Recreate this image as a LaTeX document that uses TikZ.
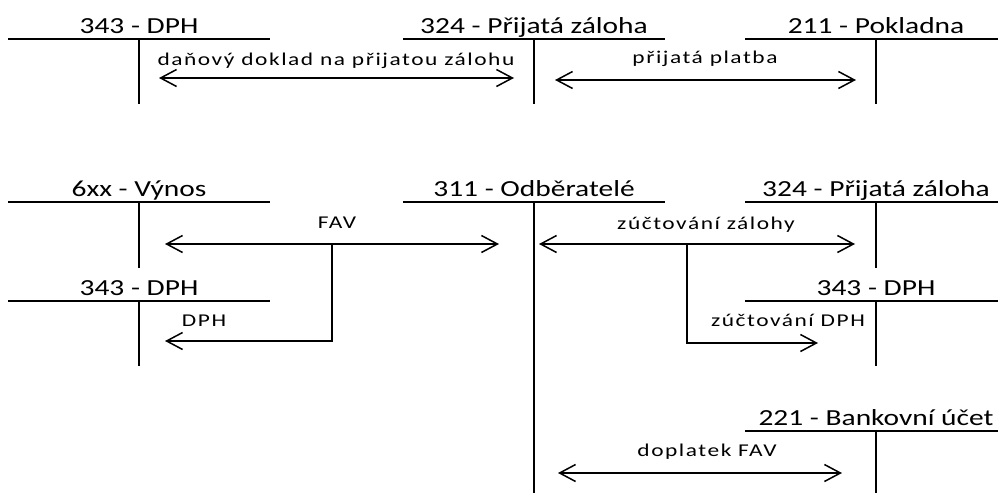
\documentclass[tikz,border=0pt]{standalone}
\usepackage{fontspec}
\usetikzlibrary{arrows.meta}
\newfontfamily\titlefont[FakeStretch=1.28]{Carlito}
\newfontfamily\labelfont[FakeStretch=1.3,LetterSpace=8.6]{Carlito}
\newcommand\taccount[5]{% name, cx, y, bottom, title
  \coordinate (#1) at (#2,#3);
  \draw[tline] (#2-131,#3) -- ({min(#2+131,998)},#3);
  \draw[tline] (#2,#3) -- (#2,#4);
  \node[acctitle] (#1t) at (#2,#3-6) {#5};
}
\begin{document}
\begin{tikzpicture}[x=1pt,y=-1pt,
  tline/.style={line width=2.9pt},
  barb/.tip={Straight Barb[length=16pt,width=17pt]},
  flow/.style={line width=1.5pt},
  acctitle/.style={anchor=base,inner sep=0pt,font=\titlefont\fontsize{23}{27}\selectfont},
  flowlabel/.style={anchor=base,inner sep=0pt,font=\labelfont\fontsize{18}{22}\selectfont}]
\useasboundingbox (0,0) rectangle (998,493);
\fill[white] (0,0) rectangle (998,493);

% top row
\taccount{dphA}{139}{39}{104}{343 - DPH}
\taccount{zalA}{534}{39}{104}{324 - Přijatá záloha}
\taccount{pok}{876}{39}{104}{211 - Pokladna}

% bottom section
\taccount{vyn}{139}{202}{268}{6xx - Výnos}
\taccount{odb}{534}{202}{493}{311 - Odběratelé}
\taccount{zalB}{876}{202}{268}{324 - Přijatá záloha}
\taccount{dphB}{139}{301}{366}{343 - DPH}
\taccount{dphC}{876}{301}{366}{343 - DPH}
\taccount{bank}{876}{431}{493}{221 - Bankovní účet}

% arrows, top
\coordinate (a1l) at (159,78);
\coordinate (a1r) at (514,78);
\draw[flow,barb-barb] (a1l) -- (a1r);
\node[flowlabel] (l1) at (336,65) {daňový doklad na přijatou zálohu};

\coordinate (a2l) at (555,80);
\coordinate (a2r) at (856,80);
\draw[flow,barb-barb] (a2l) -- (a2r);
\node[flowlabel] (l2) at (705,63) {přijatá platba};

% FAV
\coordinate (favl) at (165,244);
\coordinate (favr) at (499,244);
\draw[flow,barb-barb] (favl) -- (favr);
\node[flowlabel] (lfav) at (337,228) {FAV};
\coordinate (favb) at (332,244);
\coordinate (favc) at (332,341);
\coordinate (dphe) at (165,341);
\draw[flow,-barb] (favb) -- (favc) -- (dphe);
\node[flowlabel] (ldph) at (204,326) {DPH};

% zuctovani zalohy
\coordinate (zl) at (539,244);
\coordinate (zr) at (855,244);
\draw[flow,barb-barb] (zl) -- (zr);
\node[flowlabel] (lz) at (706,229) {zúčtování zálohy};
\coordinate (zb) at (687,244);
\coordinate (zc) at (687,343);
\coordinate (ze) at (818,343);
\draw[flow,-barb] (zb) -- (zc) -- (ze);
\node[flowlabel] (lzd) at (788,326) {zúčtování DPH};

% doplatek
\coordinate (dl) at (558,473);
\coordinate (dr) at (842,473);
\draw[flow,barb-barb] (dl) -- (dr);
\node[flowlabel] (ld) at (707,456) {doplatek FAV};
\end{tikzpicture}
\end{document}
